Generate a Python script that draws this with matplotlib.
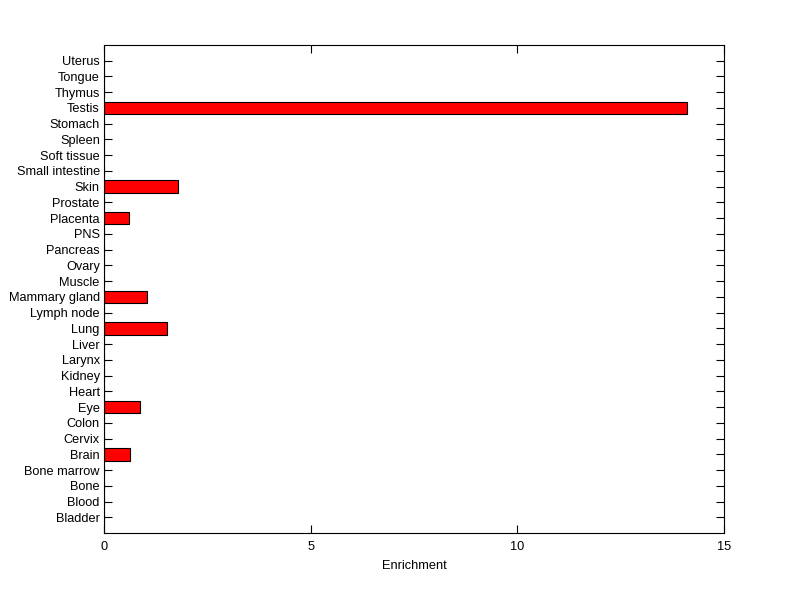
import matplotlib
matplotlib.use("Agg")
import matplotlib.pyplot as plt
import numpy as np

plt.rcParams.update({
    "font.family": "sans-serif",
    "font.sans-serif": ["Liberation Sans", "DejaVu Sans"],
    "font.size": 9.2,
})

tissues = [
    "Bladder", "Blood", "Bone", "Bone marrow", "Brain", "Cervix", "Colon", "Eye",
    "Heart", "Kidney", "Larynx", "Liver", "Lung", "Lymph node", "Mammary gland",
    "Muscle", "Ovary", "Pancreas", "PNS", "Placenta", "Prostate", "Skin",
    "Small intestine", "Soft tissue", "Spleen", "Stomach", "Testis", "Thymus",
    "Tongue", "Uterus",
]
enrichment = [
    0, 0, 0, 0, 0.63, 0, 0, 0.87,
    0, 0, 0, 0, 1.52, 0, 1.04,
    0, 0, 0, 0, 0.61, 0, 1.79,
    0, 0, 0, 0, 14.11, 0,
    0, 0,
]

pos = np.arange(1, len(tissues) + 1)

fig = plt.figure(figsize=(8, 5.99), dpi=100)
ax = fig.add_axes([0.13, 0.110, 0.775, 0.815])
ax.set_axisbelow(True)

ax.barh(pos, enrichment, height=0.8, color="#ff0000", edgecolor="black",
        linewidth=0.8, zorder=2)

ax.set_xlim(0, 15)
ax.set_ylim(0, len(tissues) + 1)
ax.set_xticks([0, 5, 10, 15])
ax.set_yticks(pos)
ax.set_yticklabels(tissues)
ax.set_xlabel("Enrichment", labelpad=5)

ax.tick_params(direction="in", length=6, width=0.8, top=True, right=True)
ax.tick_params(axis="x", pad=6)
ax.tick_params(axis="y", pad=3)
for s in ax.spines.values():
    s.set_linewidth(0.8)
    s.set_zorder(3)

fig.savefig("out.png", dpi=100)
